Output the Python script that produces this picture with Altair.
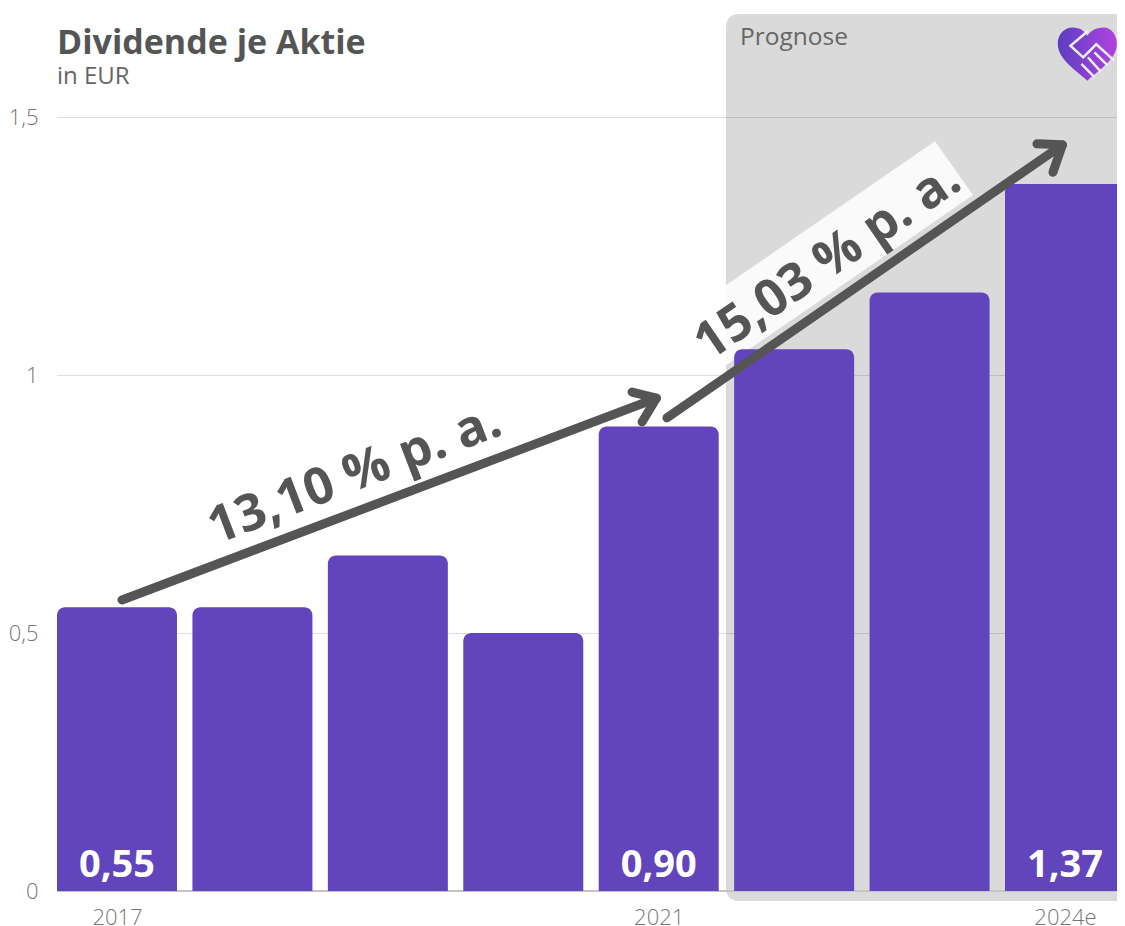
import altair as alt
import pandas as pd

years = [2017, 2018, 2019, 2020, 2021, 2022, 2023, 2024]
dividends = [0.55, 0.55, 0.65, 0.50, 0.90, 1.05, 1.16, 1.37]
label_years = [2017, 2021, 2024]
label_texts = ["0,55", "0,90", "1,37"]
grid_values = [0.5, 1.0, 1.5]

arrow_series = ["a", "a", "b", "b", "c", "c", "c", "d", "d", "d"]
arrow_x = [2017.037, 2020.983, 2021.061, 2023.981, 2020.803, 2020.983, 2020.877, 2023.793, 2023.981, 2023.911]
arrow_y = [0.564, 0.955, 0.917, 1.446, 0.967, 0.955, 0.909, 1.448, 1.446, 1.393]

band_x = [2021.497, 2023.040, 2023.321]
band_top = [1.174, 1.453, 1.349]
band_bottom = [1.019, 1.298, 1.349]

XMIN, XMAX = 2016.557, 2024.384
HALF = 0.443
TEXT = "#555555"
FONT = "Open Sans"

x_scale = alt.Scale(domain=[XMIN, XMAX], nice=False, zero=False)
y_scale = alt.Scale(domain=[0, 1.5], nice=False)

y_axis = alt.Axis(
    values=[0, 0.5, 1, 1.5], grid=False, domain=False, ticks=False, labelPadding=19, title=None,
    labelExpr="replace(format(datum.value, '.1~f'), '.', ',')",
    labelFont=FONT, labelFontSize=22, labelFontWeight=300, labelColor="#777777",
)
x_axis = alt.Axis(
    values=label_years, grid=False, domain=False, ticks=False, labelPadding=16, title=None,
    labelExpr="datum.value == 2024 ? '2024e' : format(datum.value, 'd')",
    labelFont=FONT, labelFontSize=22, labelFontWeight=300, labelColor="#777777",
    labelFlush=False, labelOverlap=False,
)


def X(field="x"):
    return alt.X(f"{field}:Q", scale=x_scale, axis=x_axis)


def Y(field="y"):
    return alt.Y(f"{field}:Q", scale=y_scale, axis=y_axis)


bars_df = pd.DataFrame({"x": [v - HALF for v in years], "x2": [v + HALF for v in years], "y": dividends})
panel_df = pd.DataFrame({"x": [2021.497], "x2": [2024.7], "y": [1.6996], "y2": [-0.0194]})
band_df = pd.DataFrame({"x": band_x, "y": band_top, "y2": band_bottom})
grid_df = pd.DataFrame({"y": grid_values})
zero_df = pd.DataFrame({"y": [0]})
arrow_df = pd.DataFrame({"s": arrow_series, "x": arrow_x, "y": arrow_y, "o": list(range(len(arrow_x)))})
values_df = pd.DataFrame({"x": label_years, "y": [0.048] * 3, "t": label_texts})
rate_df = pd.DataFrame({"x": [2018.757, 2022.25], "y": [0.806, 1.219], "t": ["13,10 % p. a.", "15,03 % p. a."], "a": [339, 325.6]})
prog_df = pd.DataFrame({"x": [2021.600], "y": [1.653], "t": ["Prognose"]})
title_df = pd.DataFrame({"x": [XMIN], "y": [1.641], "t": ["Dividende je Aktie"]})
sub_df = pd.DataFrame({"x": [XMIN], "y": [1.578], "t": ["in EUR"]})
logo_df = pd.DataFrame({"x": [2024.165], "y": [1.622]})

panel = alt.Chart(panel_df).mark_rect(
    color="#dadada", cornerRadiusTopLeft=12, cornerRadiusBottomLeft=12
).encode(x=X(), x2="x2:Q", y=Y(), y2="y2:Q")

grid = alt.Chart(grid_df).mark_rule(color="#000000", opacity=0.13, strokeWidth=1, yOffset=0.5).encode(y=Y())

band = alt.Chart(band_df).mark_area(color="#fafafa", opacity=1).encode(x=X(), y=Y(), y2="y2:Q")

bars = alt.Chart(bars_df).mark_rect(
    color="#6244bc", cornerRadiusTopLeft=8, cornerRadiusTopRight=8
).encode(x=X(), x2="x2:Q", y=Y(), y2=alt.Y2(datum=0))

zero = alt.Chart(zero_df).mark_rule(color="#c4c4c4", strokeWidth=2).encode(y=Y())

arrows = alt.Chart(arrow_df).mark_line(
    color="#555555", strokeWidth=9, strokeCap="round", strokeJoin="round"
).encode(x=X(), y=Y(), detail="s:N", order="o:Q")

values = alt.Chart(values_df).mark_text(
    font=FONT, fontSize=38, fontWeight="bold", color="white", align="center", baseline="middle"
).encode(x=X(), y=Y(), text="t:N")

rates = alt.Chart(rate_df).mark_text(
    font=FONT, fontSize=51, fontWeight="bold", color=TEXT, align="center", baseline="middle"
).encode(x=X(), y=Y(), text="t:N", angle=alt.Angle("a:Q", scale=None))

prog = alt.Chart(prog_df).mark_text(
    font=FONT, fontSize=24.5, color="#666666", align="left", baseline="middle"
).encode(x=X(), y=Y(), text="t:N")

title = alt.Chart(title_df).mark_text(
    font=FONT, fontSize=34, fontWeight="bold", color=TEXT, align="left", baseline="middle"
).encode(x=X(), y=Y(), text="t:N")

sub = alt.Chart(sub_df).mark_text(
    font=FONT, fontSize=24, color="#666666", align="left", baseline="middle"
).encode(x=X(), y=Y(), text="t:N")

HEART = ("M0,0.9 C-0.3,0.6 -1,0.2 -1,-0.35 C-1,-0.7 -0.75,-0.9 -0.5,-0.9 C-0.25,-0.9 -0.1,-0.78 0,-0.62 "
         "C0.1,-0.78 0.3,-0.9 0.55,-0.9 C0.8,-0.9 1,-0.65 1,-0.35 C1,0.2 0.3,0.6 0,0.9 Z")
SHAKE = ("M0.02,-0.78 L-0.57,-0.28 L-0.14,0.11 L0.3,-0.33 L0.91,0.22 "
         "M0.24,-0.06 L0.69,0.39 M0.02,0.11 L0.47,0.61 M-0.2,0.33 L0.24,0.78")

logo_fill = alt.Gradient(
    gradient="linear", x1=0, x2=1, y1=0, y2=0,
    stops=[alt.GradientStop(color="#5a3fc0", offset=0), alt.GradientStop(color="#b242e0", offset=1)],
)
heart = alt.Chart(logo_df).mark_point(
    shape=HEART, size=3500, filled=True, fill=logo_fill, opacity=1, strokeWidth=0
).encode(x=X(), y=Y())
shake = alt.Chart(logo_df).mark_point(
    shape=SHAKE, size=3500, filled=False, stroke="#eeeeee", strokeWidth=2.5, opacity=1
).encode(x=X(), y=Y())

chart = alt.layer(panel, grid, band, zero, bars, arrows, values, rates, prog, title, sub, heart, shake).properties(
    width=1060,
    height=774,
    padding={"left": 49, "top": 109, "right": 0, "bottom": 45},
    autosize=alt.AutoSizeParams(type="none"),
    background="white",
).configure_view(stroke=None)

chart.save("out.html", embed_options={"renderer": "svg", "actions": False})
